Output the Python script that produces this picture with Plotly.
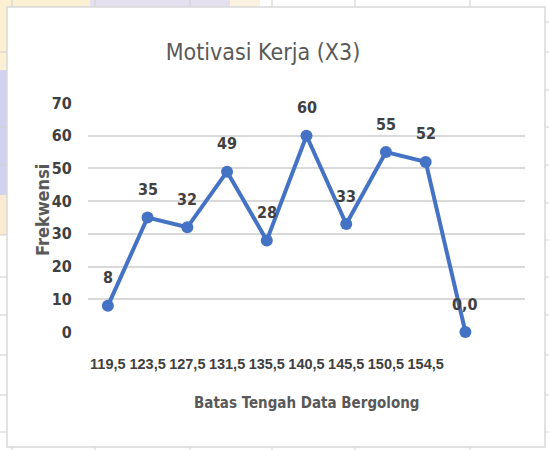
import plotly.graph_objects as go

# ---- data ----
categories = ["119,5", "123,5", "127,5", "131,5", "135,5", "140,5", "145,5", "150,5", "154,5"]
frekwensi = [8, 35, 32, 49, 28, 60, 33, 55, 52, 0]
label_text = ["8", "35", "32", "49", "28", "60", "33", "55", "52", "0,0"]
y_ticks = [0, 10, 20, 30, 40, 50, 60, 70]

FONT = "DejaVu Sans Condensed, Liberation Sans, Arial, sans-serif"
TICKFONT = "Liberation Sans, Arial, sans-serif"
W, H = 549, 450
L, R, T, B = 88, 24, 103, 118
PW, PH = W - L - R, H - T - B

def px(x):
    return (x - L) / PW

def py(y):
    return (H - B - y) / PH

x_pos = list(range(len(frekwensi)))

fig = go.Figure()
fig.add_trace(go.Scatter(
    x=x_pos, y=frekwensi, mode="lines+markers",
    line=dict(color="#4472C4", width=4),
    marker=dict(color="#4472C4", size=12),
    cliponaxis=False,
    hoverinfo="skip", showlegend=False,
))

annotations = []
for xi, yi, t in zip(x_pos, frekwensi, label_text):
    annotations.append(dict(x=xi, y=yi, text="<b>" + t + "</b>", showarrow=False, yshift=28,
                            font=dict(family=FONT, size=16, color="#404040"),
                            xref="x", yref="y", xanchor="center", yanchor="middle"))
annotations.append(dict(x=px(306), y=py(403), xref="paper", yref="paper",
                        xanchor="center", yanchor="middle",
                        text="<b>Batas Tengah Data Bergolong</b>", showarrow=False,
                        font=dict(family=FONT, size=15, color="#595959")))
annotations.append(dict(x=px(42), y=py(210), xref="paper", yref="paper",
                        xanchor="center", yanchor="middle",
                        text="<b>Frekwensi</b>", showarrow=False, textangle=-90,
                        font=dict(family=FONT, size=18, color="#595959")))

def rect(x0, y0, x1, y1, fill, line=None):
    return dict(type="rect", xref="paper", yref="paper", x0=px(x0), x1=px(x1), y0=py(y1), y1=py(y0),
                fillcolor=fill, line=line or dict(width=0), layer="below")

shapes = [
    # spreadsheet background around the chart
    rect(0, 0, 7, 70, "#fbefd4"),
    rect(0, 70, 7, 195, "#d2d2f0"),
    rect(0, 195, 7, 235, "#fbe9d2"),
    rect(0, 0, 90, 7, "#fbefd4"),
    rect(90, 0, 230, 7, "#e4e0f0"),
    rect(230, 0, 260, 7, "#fbf3e0"),
]
for yy in [52, 127, 165, 235, 277, 315, 355, 395, 432]:
    shapes.append(dict(type="line", xref="paper", yref="paper", x0=px(0), x1=px(7),
                       y0=py(yy), y1=py(yy), line=dict(color="#cfcfcf", width=1), layer="below"))
for yy in [22, 52, 90, 127, 165, 203, 240, 277, 315, 355, 395, 432]:
    shapes.append(dict(type="line", xref="paper", yref="paper", x0=px(545), x1=px(549),
                       y0=py(yy), y1=py(yy), line=dict(color="#cfcfcf", width=1), layer="below"))
for xx in [12, 95, 190, 272, 355, 470]:
    shapes.append(dict(type="line", xref="paper", yref="paper", x0=px(xx), x1=px(xx),
                       y0=py(0), y1=py(7), line=dict(color="#cfcfcf", width=1), layer="below"))
    shapes.append(dict(type="line", xref="paper", yref="paper", x0=px(xx), x1=px(xx),
                       y0=py(447), y1=py(450), line=dict(color="#cfcfcf", width=1), layer="below"))
shapes.append(rect(7, 7, 545, 447, "white", dict(color="#d9d9d9", width=1.5)))

fig.update_layout(
    width=W, height=H,
    margin=dict(l=L, r=R, t=T, b=B, autoexpand=False),
    paper_bgcolor="white", plot_bgcolor="rgba(0,0,0,0)",
    title=dict(text="Motivasi Kerja (X3)", x=px(263), xref="paper", xanchor="center",
               y=1 - 52 / H, yref="container", yanchor="middle",
               font=dict(family=FONT, size=23, color="#595959")),
    xaxis=dict(range=[-0.5, 10.5], tickmode="array", tickvals=x_pos[:len(categories)],
               ticktext=["<b>" + c + "</b>" for c in categories], tickangle=0, automargin=False,
               showgrid=False, zeroline=False, showline=False,
               ticks="outside", ticklen=19, tickcolor="rgba(0,0,0,0)",
               tickfont=dict(family=TICKFONT, size=14.5, color="#404040")),
    yaxis=dict(range=[0, 70], tickmode="array", tickvals=y_ticks,
               ticktext=["<b>%d</b>" % v for v in y_ticks], automargin=False,
               showgrid=True, gridcolor="#d9d9d9", gridwidth=1.5, zeroline=False, showline=False,
               ticks="outside", ticklen=12, tickcolor="rgba(0,0,0,0)",
               tickfont=dict(family=FONT, size=16, color="#404040")),
    annotations=annotations,
    shapes=shapes,
)

fig.write_html("out.html", config={"displayModeBar": False},
               post_script="document.body.style.margin='0';document.body.style.overflow='hidden';")
